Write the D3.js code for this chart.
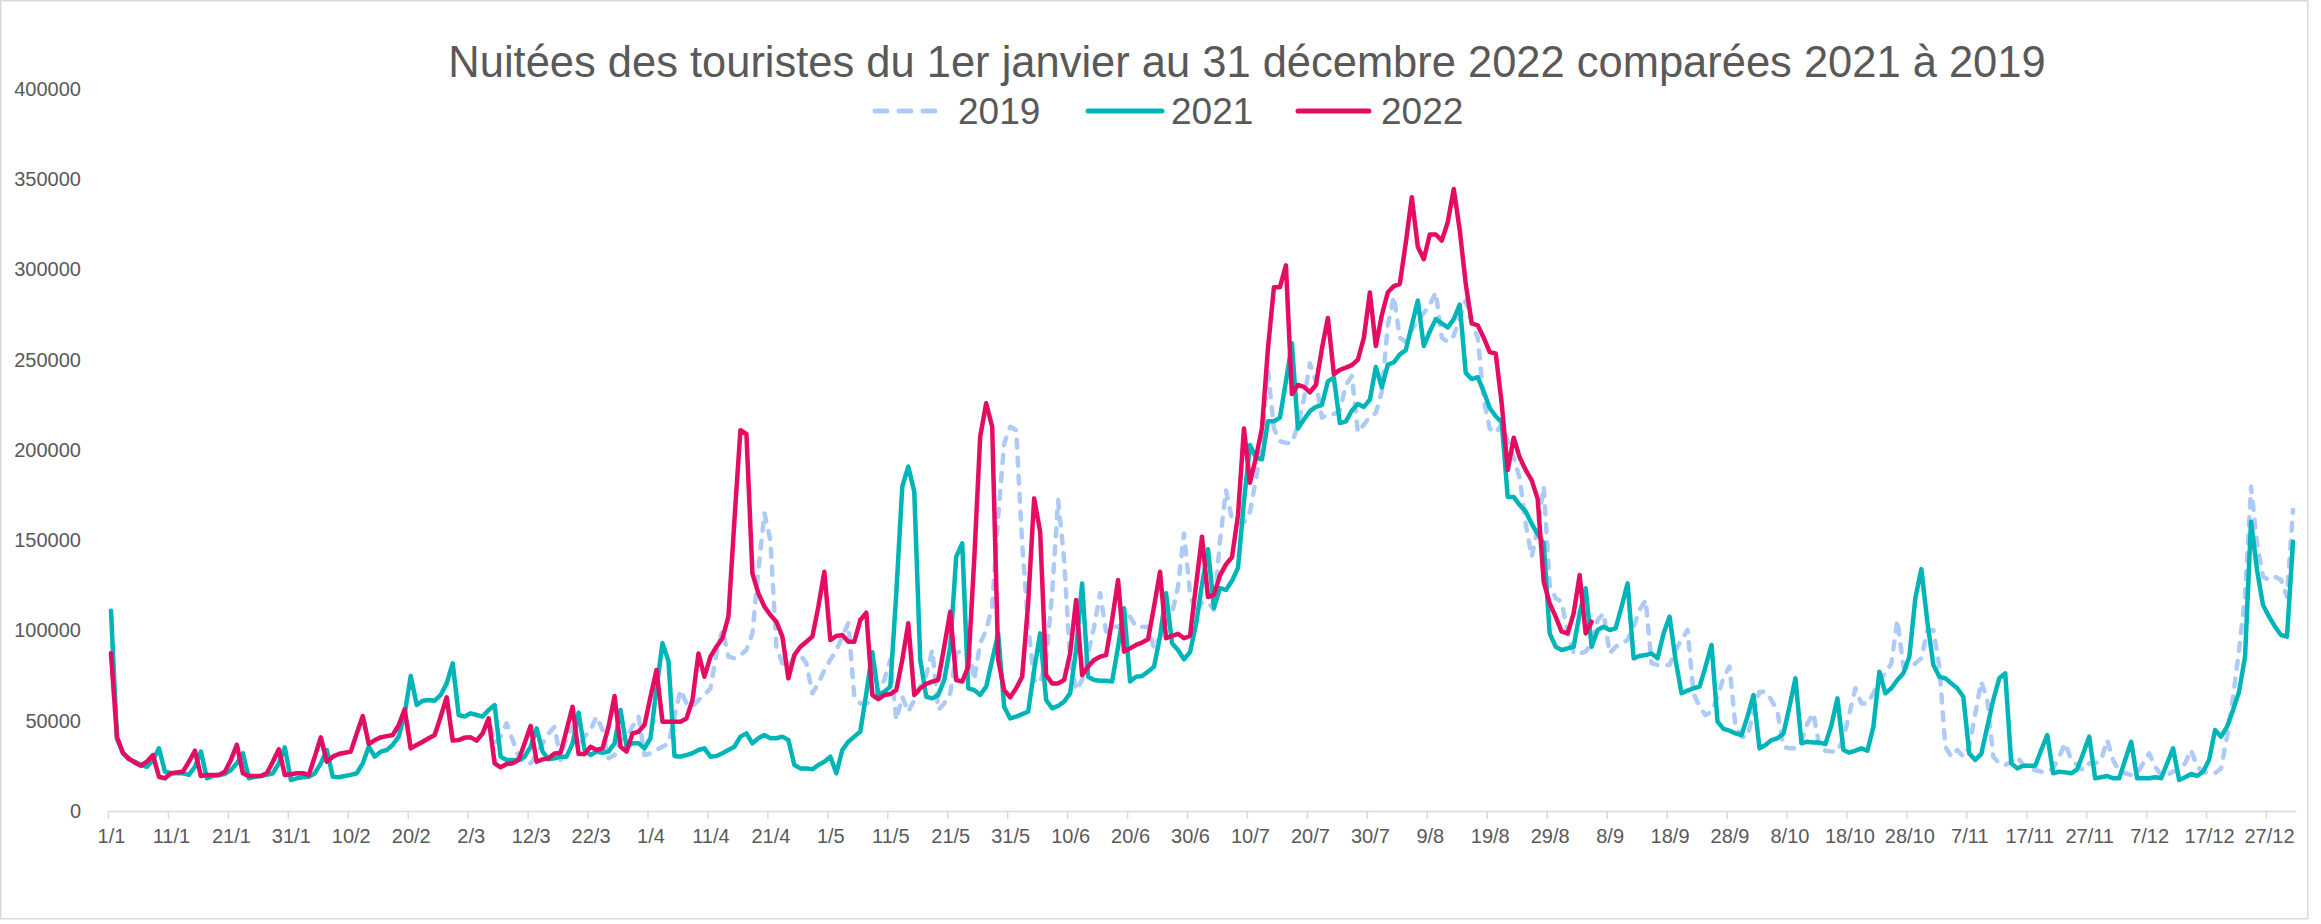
<!DOCTYPE html>
<html>
<head>
<meta charset="utf-8">
<script src="https://cdn.jsdelivr.net/npm/d3@7"></script>
<style>
  html, body { margin: 0; padding: 0; background: #ffffff; }
  svg { display: block; }
  text { font-family: "Liberation Sans", Arial, sans-serif; fill: #595959; }
</style>
</head>
<body>
<svg id="chart" width="2321" height="924"></svg>
<script>
const title = "Nuitées des touristes du 1er janvier au 31 décembre 2022 comparées 2021 à 2019";
const seriesNames = ["2019", "2021", "2022"];
const seriesColors = ["#aecbf7", "#00b5b8", "#e40c63"];

// categories: every day of the year (dd/m)
const categories = d3.timeDay.range(new Date(2022, 0, 1), new Date(2023, 0, 1)).map(d3.timeFormat("%-d/%-m"));
const tickLabels = ["1/1","11/1","21/1","31/1","10/2","20/2","2/3","12/3","22/3","1/4","11/4","21/4","1/5","11/5","21/5","31/5","10/6","20/6","30/6","10/7","20/7","30/7","9/8","19/8","29/8","8/9","18/9","28/9","8/10","18/10","28/10","7/11","17/11","27/11","7/12","17/12","27/12"];
const yTicks = [0, 50000, 100000, 150000, 200000, 250000, 300000, 350000, 400000];

const values2019 = [
87400,41000,32000,29000,26800,25100,27300,31000,19000,18100,
20900,21400,21800,27300,33400,19400,20000,20000,20000,21800,
28300,36600,20900,19400,19400,19400,20900,27300,34200,20000,
20400,20900,20900,20000,30100,40800,27300,30100,31600,32300,
32900,43000,52600,37100,39300,40800,41500,42100,47600,56300,
34700,36600,38400,40300,42100,52300,63000,39000,39300,40600,
40800,39000,43000,51300,37500,41200,48600,39300,30100,26400,
26400,31000,37500,43000,46700,28300,41200,46700,34700,41200,
44900,52300,44900,29200,31000,39300,41200,46700,52300,31000,
32000,33800,35600,37500,52300,67000,59600,57800,61500,64200,
68000,87300,100300,85500,84600,86400,89200,98400,133500,165000,
150000,91000,81800,80000,85500,86400,81800,65200,70700,78000,
83700,89200,96600,104000,63300,59600,59600,60600,67000,72600,
83700,50400,63300,55000,61500,68900,75300,89200,56000,59600,
65200,87300,89200,90100,72600,92900,100300,113200,163100,203700,
212900,211000,148300,102100,72600,70700,83700,120600,172300,139100,
83700,67000,72600,87300,102100,120600,99400,102100,102100,104000,
107700,102100,102100,102100,90100,96600,104000,109500,124300,153800,
120600,109500,115500,115500,111500,149600,177700,161700,159700,159700,
165700,183800,203900,244000,211900,204900,203900,203900,213900,228000,
248000,238000,217900,219900,219900,221900,236000,241000,209900,214000,
218700,220500,232400,269100,285100,262200,259900,266800,271400,275900,
280500,287400,262200,259900,263300,273600,282800,270200,262200,227800,
211800,209500,214100,205000,195800,184300,159100,140800,156900,179800,
125000,117800,116000,98400,87300,87300,88300,92900,105800,109500,
87300,91000,92900,94700,102100,111300,116900,81800,80900,80900,
80900,89200,94700,100300,65200,57800,53200,55000,63300,74000,
80000,46700,41200,41200,55000,66100,66100,61500,55000,35600,
34700,34700,38400,48600,54100,35600,33400,32900,32900,40300,
54100,68000,59600,59600,65200,72600,76300,81800,105800,80000,
79000,81800,84600,100000,100300,80000,35600,30100,33800,30100,
35600,54100,71700,61500,30100,26400,25500,27300,30100,25500,
23600,22700,21800,21800,23600,30100,37500,28300,25500,22700,
26400,26400,28300,39300,28300,21800,20900,19900,20900,26400,
31900,24600,19900,19900,21800,22700,26400,33800,24600,21800,
20900,20900,23600,41200,63300,89200,118700,179700,148300,129800,
128000,129800,128000,118700,166800
];

const values2021 = [
111000,40000,32300,28600,27300,25500,24500,28300,34700,21800,
20900,20900,20900,20000,24500,32900,18100,19400,20000,20500,
22700,26400,32000,18100,19000,19400,20000,20900,26400,35300,
17200,18100,18700,19000,20900,26400,33800,19000,18700,19400,
20000,20900,26400,35600,30100,32900,33800,36600,41200,54100,
74800,58700,61100,61500,61100,64300,70700,81800,53200,52300,
54100,53200,52300,56000,58700,30100,28300,28300,28300,30100,
35600,45800,32900,28600,29200,30100,30100,37500,54500,33800,
31000,32900,32300,32900,37500,56000,35600,37500,37500,34700,
40300,68000,93000,83000,30500,30100,31000,32000,33800,34700,
30100,30500,32000,33800,35600,41200,43000,37500,40300,42100,
40300,40300,41200,39300,25500,23600,23600,23100,25500,27300,
30100,20900,33800,38400,41200,44000,65200,88000,64300,66100,
68900,120600,179700,190800,176900,83700,63300,62400,64300,72600,
91000,140900,148300,68000,67000,64300,68900,83700,98400,57800,
51300,52300,53700,55000,78100,98400,61500,56900,58200,60600,
65200,89200,126100,74400,72600,72200,72200,71700,91000,112300,
71700,74400,74800,77200,80000,96600,120600,92900,89200,84000,
88000,103400,125500,145000,112500,123500,122500,127500,134600,171700,
202800,195800,194800,215900,215900,217900,238000,259100,211900,216900,
221500,223900,224900,238000,240000,214900,215900,221900,225500,223900,
227800,246000,234700,247300,248500,253000,255300,269100,282800,257600,
265600,272500,270200,267900,272500,280500,242700,239300,240400,232400,
223300,218700,215300,174000,174000,169500,166000,159100,153400,148300,
98400,91000,89200,90100,91000,109500,123400,91000,100300,102100,
100300,101200,113200,126100,84600,85900,86400,87300,84600,98400,
107700,83700,65200,66700,68000,68900,80000,92000,49500,45500,
44500,43000,42100,52300,64300,34700,36600,39300,40300,43000,
57800,73500,37500,38400,37900,37900,37100,47600,62400,33800,
32300,33400,34700,33400,46700,77200,65200,68000,72600,76300,
85500,118000,134000,105000,81000,74400,73500,70700,68000,63300,
31900,28300,31600,46700,61500,73500,76300,26400,23600,25100,
25100,25100,33800,42100,20900,21800,21400,20900,23100,31900,
41200,18100,18700,19400,18100,18100,28300,38400,18100,18100,
18100,18700,18100,26400,34700,17200,18700,20500,19400,21800,
28300,44900,41200,46700,56000,66100,85500,160300,133500,114100,
107700,102100,97500,96600,149200
];

const values2022 = [
87400,41000,32000,29000,26800,25100,27300,31000,19000,18100,
20900,21400,21800,27300,33400,19400,20000,20000,20000,21800,
28300,36600,20900,19400,19400,19400,20900,27300,34200,20000,
20400,20900,20900,20000,30100,40800,27300,30100,31600,32300,
32900,43000,52600,37100,39300,40800,41500,42100,47600,56300,
34700,36600,38400,40300,42100,52300,63000,39000,39300,40600,
40800,39000,43000,51300,26400,24200,26000,26400,28300,37500,
47100,27300,28600,29200,31900,32300,44900,57800,31600,31600,
35600,33800,34700,46700,63700,35600,32900,43000,43900,47600,
63300,78100,49500,49500,49500,49500,51300,61500,87300,74400,
85500,91000,95700,107700,161200,211000,208900,131700,120600,113200,
108600,104900,96600,73500,86400,91000,93800,96600,113200,132600,
94700,97000,97500,93800,93800,105800,109900,64300,61900,64300,
64800,67000,83700,104000,64300,68000,70400,71700,72600,91000,
110400,72600,71700,80000,139100,207400,225900,212900,83700,67000,
63000,68000,74400,115000,173200,154800,75300,70700,70700,72600,
87300,116900,75300,80000,83700,85500,86400,105800,128000,88300,
90100,92000,93300,95100,113200,132600,95700,97000,98100,95700,
97000,125000,152000,118500,119900,130500,136600,140600,163700,211900,
181800,195800,211900,256100,290200,290200,302300,231000,236000,235000,
232000,236000,256100,273100,242000,244400,245600,247000,250000,262100,
287200,257600,274800,287400,290800,292000,314900,340000,312600,305700,
319400,319400,316000,326300,344600,321700,292000,270200,269100,262200,
254200,253500,225600,188900,206800,195800,188900,183200,172900,127100,
115000,107700,99400,98400,109500,130700,98400,104900
];

const allSeries = [values2019, values2021, values2022];

const svg = d3.select("#chart");
const W = 2321, H = 924;

// frame
svg.append("rect")
  .attr("x", 0.75).attr("y", 0.75)
  .attr("width", 2307).attr("height", 918)
  .attr("fill", "none").attr("stroke", "#d9d9d9").attr("stroke-width", 1.5);

// scales
const x = d3.scaleLinear().domain([0, categories.length]).range([108, 2296]);
const y = d3.scaleLinear().domain([0, 400000]).range([811, 89]);

// y axis (labels only)
const yAxis = svg.append("g")
  .attr("transform", "translate(89,0)")
  .call(d3.axisLeft(y).tickValues(yTicks).tickSize(0).tickPadding(8).tickFormat(d3.format("d")));
yAxis.select(".domain").remove();
yAxis.selectAll("text").attr("font-size", 20).attr("font-family", "Liberation Sans, Arial, sans-serif").attr("fill", "#595959");

// x axis: line + tick marks at category boundaries
const tickIdx = tickLabels.map(l => categories.indexOf(l));
const xTickAxis = svg.append("g")
  .attr("transform", "translate(0,811)")
  .call(d3.axisBottom(x).tickValues(tickIdx).tickSize(8).tickSizeOuter(0).tickFormat(""));
xTickAxis.select(".domain").attr("stroke", "#d9d9d9").attr("stroke-width", 1.5);
xTickAxis.selectAll(".tick line").attr("stroke", "#d9d9d9").attr("stroke-width", 1.5);

// x labels at category centres
const xLabelAxis = svg.append("g")
  .attr("transform", "translate(0,811)")
  .call(d3.axisBottom(x).tickValues(tickIdx.map(i => i + 0.5)).tickSize(0).tickPadding(18)
    .tickFormat((d, i) => tickLabels[i]));
xLabelAxis.select(".domain").remove();
xLabelAxis.selectAll("text").attr("font-size", 20).attr("font-family", "Liberation Sans, Arial, sans-serif").attr("fill", "#595959");

// lines
const line = d3.line().x((d, i) => x(i + 0.5)).y(d => y(d));
allSeries.forEach((vals, s) => {
  const p = svg.append("path")
    .datum(vals)
    .attr("fill", "none")
    .attr("stroke", seriesColors[s])
    .attr("stroke-width", 4.5)
    .attr("stroke-linejoin", "round")
    .attr("stroke-linecap", "round")
    .attr("d", line);
  if (s === 0) p.attr("stroke-dasharray", "8,10");
});

// title
const t = svg.append("text")
  .attr("x", 1247).attr("y", 77)
  .attr("text-anchor", "middle")
  .attr("font-size", 40)
  .attr("fill", "#595959")
  .text(title);
const tl = t.node().getComputedTextLength();
t.attr("font-size", 40 * 1598 / tl);

// legend
const legendX = [[875, 943, 958], [1088, 1162, 1171], [1298, 1369, 1381]];
seriesNames.forEach((name, s) => {
  const g = svg.append("g");
  const ln = g.append("line")
    .attr("x1", legendX[s][0]).attr("x2", legendX[s][1])
    .attr("y1", 111).attr("y2", 111)
    .attr("stroke", seriesColors[s]).attr("stroke-width", 5)
    .attr("stroke-linecap", "round");
  if (s === 0) ln.attr("stroke-dasharray", "12,12");
  g.append("text")
    .attr("x", legendX[s][2]).attr("y", 124)
    .attr("font-size", 37).attr("fill", "#595959")
    .text(name);
});
</script>
</body>
</html>
